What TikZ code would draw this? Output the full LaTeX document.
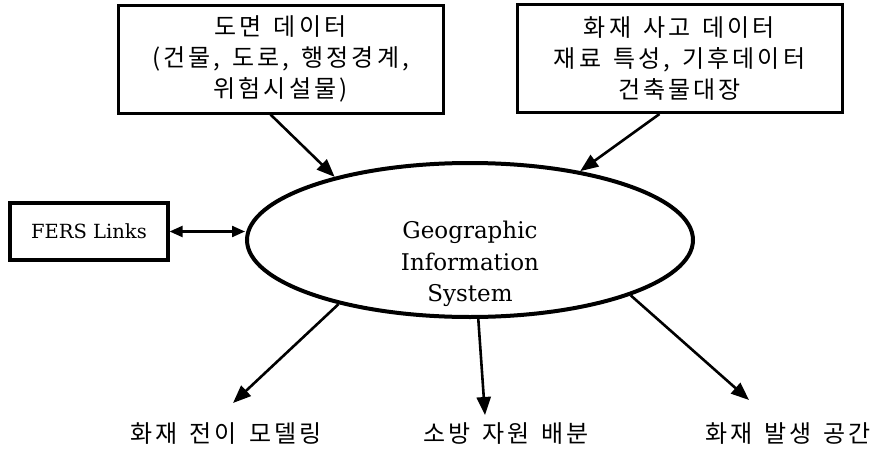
\documentclass[tikz,border=0pt]{standalone}
\usepackage{fontspec}
\setmainfont{DejaVu Serif}
\newfontfamily\krfont[LetterSpace=13]{Noto Sans CJK KR}
\newcommand\wgap{\hspace{0.5em}}
\usetikzlibrary{shapes.geometric,arrows.meta,calc}
\begin{document}
\begin{tikzpicture}[x=1pt,y=-1pt,
  databox/.style={draw,line width=3pt,minimum width=325pt,minimum height=108pt,
    align=center,inner sep=0pt,font=\krfont\fontsize{24}{31}\selectfont},
  linkbox/.style={draw,line width=3.2pt,minimum width=158pt,minimum height=57pt,
    inner sep=0pt,font=\fontsize{19.5}{23}\selectfont},
  gisshape/.style={draw,ellipse,line width=4pt,minimum width=446pt,minimum height=154pt,inner sep=0pt},
  gistext/.style={align=center,inner sep=0pt,font=\fontsize{23}{31.5}\selectfont},
  outlabel/.style={inner sep=0pt,font=\krfont\fontsize{24}{28}\selectfont},
  arr/.style={line width=2.6pt,-{Triangle[length=18pt,width=14pt]}},
  biarr/.style={line width=2.2pt,{Triangle[length=13pt,width=11pt]}-{Triangle[length=13pt,width=11pt]}}
]
\useasboundingbox (0,0) rectangle (879,450);

\node[databox] (lbox) at (280.5,59) {도면\wgap 데이터\\(건물,\wgap 도로,\wgap 행정경계,\\위험시설물)};
\node[databox] (rbox) at (679.5,58.5) {화재\wgap 사고\wgap 데이터\\재료\wgap 특성,\wgap 기후데이터\\건축물대장};
\node[linkbox] (fers) at (89,231.5) {FERS Links};
\node[gisshape] (gis) at (470,240) {};
\node[gistext] (gistxt) at (470,264) {Geographic\\Information\\System};

\node[outlabel] (lab1) at (226,434) {화재\wgap 전이\wgap 모델링};
\node[outlabel] (lab2) at (506,434) {소방\wgap 자원\wgap 배분};
\node[outlabel] (lab3) at (788,434) {화재\wgap 발생\wgap 공간};

\coordinate (t1) at (233,403);
\coordinate (t2) at (485,415);
\coordinate (t3) at (749,400);

\draw[arr] ([xshift=-10pt]lbox.south) -- (gis.155);
\draw[arr] ([xshift=-20pt]rbox.south) -- (gis.32);
\draw[biarr] (fers.east) -- (fers.east -| gis.west);
\draw[arr] (gis.206) -- (t1);
\draw[arr] (gis.276) -- (t2);
\draw[arr] (gis.341) -- (t3);
\end{tikzpicture}
\end{document}
